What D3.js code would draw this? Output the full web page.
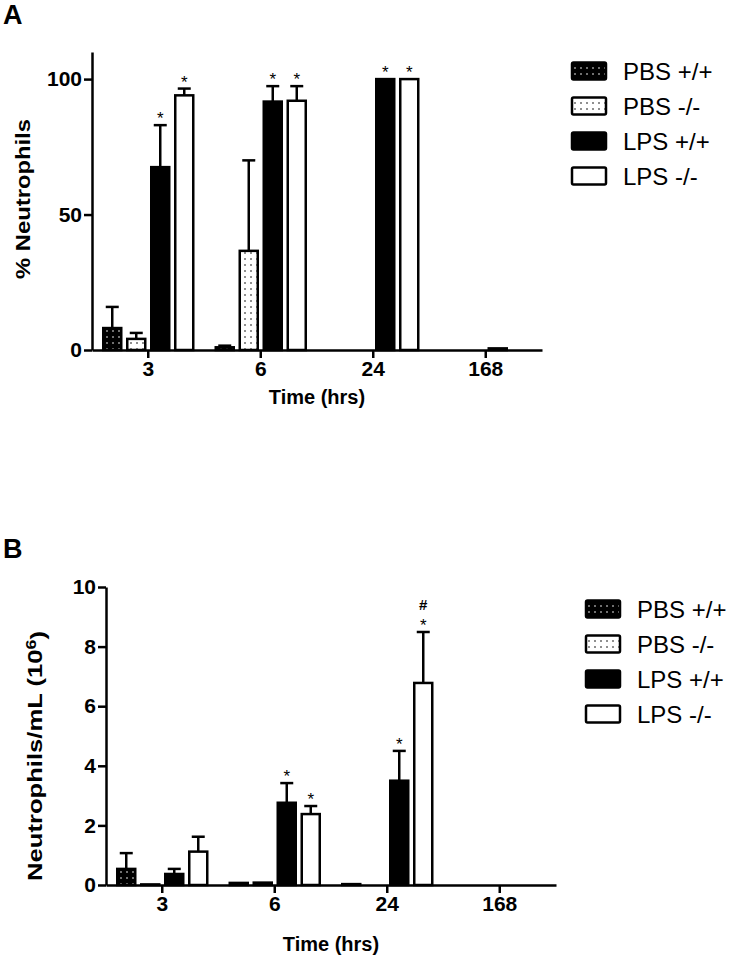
<!DOCTYPE html>
<html lang="en">
<head>
	<meta charset="utf-8">
	<title>Neutrophils</title>
	<script src="https://d3js.org/d3.v7.min.js"></script>
	<style>
		body {
			margin: 0px;
			padding: 0px;
			background: #fff;
		}

		text {
			font-family: Arial, "Liberation Sans", Helvetica, sans-serif;
			fill: #000;
		}

		.axis path,
		.axis line {
			stroke: #000;
			stroke-width: 2.5;
		}

		.axis text {
			font-size: 21px;
			font-weight: bold;
			fill: #000;
		}

		.title {
			font-size: 20px;
			font-weight: bold;
		}

		.panel {
			font-size: 27px;
			font-weight: bold;
		}

		.legend-text {
			font-size: 24px;
		}

		.mark {
			font-size: 17px;
		}
	</style>
</head>

<body>
	<div id="chart"></div>
	<script>

		// Data
		var times = ["3", "6", "24", "168"];
		var groups = ["PBS +/+", "PBS -/-", "LPS +/+", "LPS -/-"];

		// panel A: % neutrophils (mean, sem)
		var pctPbsWt = [8.1, 1.0, 0, 0];
		var pctPbsWtSem = [7.8, 0.6, 0, 0];
		var pctPbsKo = [4.1, 36.6, 0, 0];
		var pctPbsKoSem = [2.2, 33.4, 0, 0];
		var pctLpsWt = [67.5, 91.7, 100, 0.6];
		var pctLpsWtSem = [15.5, 5.7, 0, 0];
		var pctLpsKo = [94.0, 92.0, 100, 0];
		var pctLpsKoSem = [2.5, 5.4, 0, 0];

		// panel B: neutrophils/mL (10^6)
		var cntPbsWt = [0.54, 0.07, 0.03, 0];
		var cntPbsWtSem = [0.53, 0, 0, 0];
		var cntPbsKo = [0.02, 0.08, 0, 0];
		var cntPbsKoSem = [0, 0, 0, 0];
		var cntLpsWt = [0.37, 2.76, 3.5, 0];
		var cntLpsWtSem = [0.17, 0.66, 1.0, 0];
		var cntLpsKo = [1.12, 2.38, 6.78, 0];
		var cntLpsKoSem = [0.5, 0.27, 1.71, 0];

		var ticksA = [0, 50, 100];
		var ticksB = [0, 2, 4, 6, 8, 10];

		// significance marks: [time, group, label]
		var marksA = [["3", "LPS +/+", "*"], ["3", "LPS -/-", "*"], ["6", "LPS +/+", "*"], ["6", "LPS -/-", "*"],
			["24", "LPS +/+", "*"], ["24", "LPS -/-", "*"]];
		var marksB = [["6", "LPS +/+", "*"], ["6", "LPS -/-", "*"], ["24", "LPS +/+", "*"], ["24", "LPS -/-", "*"],
			["24", "LPS -/-", "#"]];

		function toRows(means, sems) {
			var rows = [];
			times.forEach(function (t, i) {
				groups.forEach(function (g, j) {
					rows.push({ time: t, group: g, value: means[j][i], sem: sems[j][i] });
				});
			});
			return rows;
		}

		var rowsA = toRows([pctPbsWt, pctPbsKo, pctLpsWt, pctLpsKo], [pctPbsWtSem, pctPbsKoSem, pctLpsWtSem, pctLpsKoSem]);
		var rowsB = toRows([cntPbsWt, cntPbsKo, cntLpsWt, cntLpsKo], [cntPbsWtSem, cntPbsKoSem, cntLpsWtSem, cntLpsKoSem]);

		var svg = d3.select("#chart").append("svg")
			.attr("width", 730)
			.attr("height", 959);

		// dot patterns
		var defs = svg.append("defs");
		function dots(id, bg, fg) {
			var p = defs.append("pattern")
				.attr("id", id)
				.attr("patternUnits", "userSpaceOnUse")
				.attr("width", 6).attr("height", 6);
			p.append("rect").attr("width", 6).attr("height", 6).attr("fill", bg);
			p.append("circle").attr("cx", 3).attr("cy", 3).attr("r", 0.8).attr("fill", fg);
		}
		dots("dotsDark", "#000", "#fff");
		dots("dotsLight", "#fff", "#000");

		var fills = {
			"PBS +/+": "url(#dotsDark)",
			"PBS -/-": "url(#dotsLight)",
			"LPS +/+": "#000",
			"LPS -/-": "#fff"
		};

		var plotW = 450, plotH = 298;

		function drawPanel(opt) {
			var g = svg.append("g").attr("transform", "translate(" + opt.left + "," + opt.top + ")");

			var x0 = d3.scaleBand().domain(times).range([0, plotW]).paddingInner(0.2).paddingOuter(0.1);
			var x1 = d3.scaleBand().domain(groups).range([0, x0.bandwidth()]).paddingInner(0.25);
			var y = d3.scaleLinear().domain(opt.domain).range([plotH, 0]);

			// error bars
			var err = g.append("g").selectAll("g")
				.data(opt.rows.filter(function (d) { return d.sem > 0; }))
				.enter().append("g")
				.attr("transform", function (d) { return "translate(" + (x0(d.time) + x1(d.group) + x1.bandwidth() / 2) + ",0)"; });
			err.append("line")
				.attr("y1", function (d) { return y(d.value); })
				.attr("y2", function (d) { return y(d.value + d.sem); })
				.attr("stroke", "#000").attr("stroke-width", 2.5);
			err.append("line")
				.attr("x1", -6.5).attr("x2", 6.5)
				.attr("y1", function (d) { return y(d.value + d.sem); })
				.attr("y2", function (d) { return y(d.value + d.sem); })
				.attr("stroke", "#000").attr("stroke-width", 2.5);

			// bars
			g.append("g").selectAll("rect")
				.data(opt.rows.filter(function (d) { return d.value > 0; }))
				.enter().append("rect")
				.attr("x", function (d) { return x0(d.time) + x1(d.group); })
				.attr("width", x1.bandwidth())
				.attr("y", function (d) { return y(d.value); })
				.attr("height", function (d) { return plotH - y(d.value); })
				.attr("fill", function (d) { return fills[d.group]; })
				.attr("stroke", "#000")
				.attr("stroke-width", 2.5);

			// significance marks
			var lookup = {};
			opt.rows.forEach(function (d) { lookup[d.time + "|" + d.group] = d; });
			var stack = {};
			g.append("g").selectAll("text")
				.data(opt.marks)
				.enter().append("text")
				.attr("class", "mark")
				.attr("text-anchor", "middle")
				.attr("x", function (m) { return x0(m[0]) + x1(m[1]) + x1.bandwidth() / 2; })
				.attr("y", function (m) {
					var d = lookup[m[0] + "|" + m[1]];
					var k = m[0] + "|" + m[1];
					var n = stack[k] || 0;
					stack[k] = n + 1;
					return n == 0 ? y(d.value + d.sem) - 1 : y(d.value + d.sem) - 22;
				})
				.style("font-size", function (m) { return m[2] == "#" ? "15px" : null; })
				.style("font-weight", function (m) { return m[2] == "#" ? "bold" : "normal"; })
				.text(function (m) { return m[2]; });

			// axes
			g.append("g")
				.attr("class", "axis")
				.call(d3.axisLeft(y).tickValues(opt.ticks).tickSize(8).tickSizeOuter(0).tickPadding(2));
			g.append("g")
				.attr("class", "axis")
				.attr("transform", "translate(0," + plotH + ")")
				.call(d3.axisBottom(x0).tickSize(8).tickSizeOuter(0).tickPadding(3));

			g.selectAll(".axis path").attr("fill", "none");

			// x title
			g.append("text")
				.attr("class", "title")
				.attr("text-anchor", "middle")
				.attr("x", plotW / 2)
				.attr("y", plotH + opt.xTitleDy)
				.text("Time (hrs)");

			// legend
			var leg = svg.append("g").selectAll("g")
				.data(groups)
				.enter().append("g")
				.attr("transform", function (d, i) { return "translate(" + opt.legX + "," + (opt.legY + i * 35) + ")"; });
			leg.append("rect")
				.attr("x", 0).attr("y", -8.5)
				.attr("width", 34).attr("height", 17)
				.attr("rx", 1.5)
				.attr("fill", function (d) { return fills[d]; })
				.attr("stroke", "#000").attr("stroke-width", 2.5);
			leg.append("text")
				.attr("class", "legend-text")
				.attr("x", 51)
				.attr("dy", "0.36em")
				.text(function (d) { return d; });

			return g;
		}

		// Panel A
		drawPanel({
			left: 92, top: 52, domain: [0, 110], ticks: ticksA, rows: rowsA, marks: marksA,
			xTitleDy: 54, legX: 572, legY: 71
		});
		svg.append("text").attr("class", "panel").attr("x", 3).attr("y", 24).text("A");
		svg.append("text")
			.attr("class", "title")
			.attr("text-anchor", "middle")
			.attr("transform", "translate(30,199) rotate(-90) scale(1.19,1)")
			.text("% Neutrophils");

		// Panel B
		drawPanel({
			left: 106, top: 587, domain: [0, 10], ticks: ticksB, rows: rowsB, marks: marksB,
			xTitleDy: 66, legX: 586, legY: 609
		});
		svg.append("text").attr("class", "panel").attr("x", 3).attr("y", 558).text("B");
		var yt = svg.append("text")
			.attr("class", "title")
			.attr("text-anchor", "middle")
			.attr("transform", "translate(42,756) rotate(-90) scale(1.28,1)");
		yt.append("tspan").text("Neutrophils/mL (10");
		yt.append("tspan").attr("dy", "-0.45em").style("font-size", "14px").text("6");
		yt.append("tspan").attr("dy", "0.45em").text(")");

	</script>
</body>
</html>
